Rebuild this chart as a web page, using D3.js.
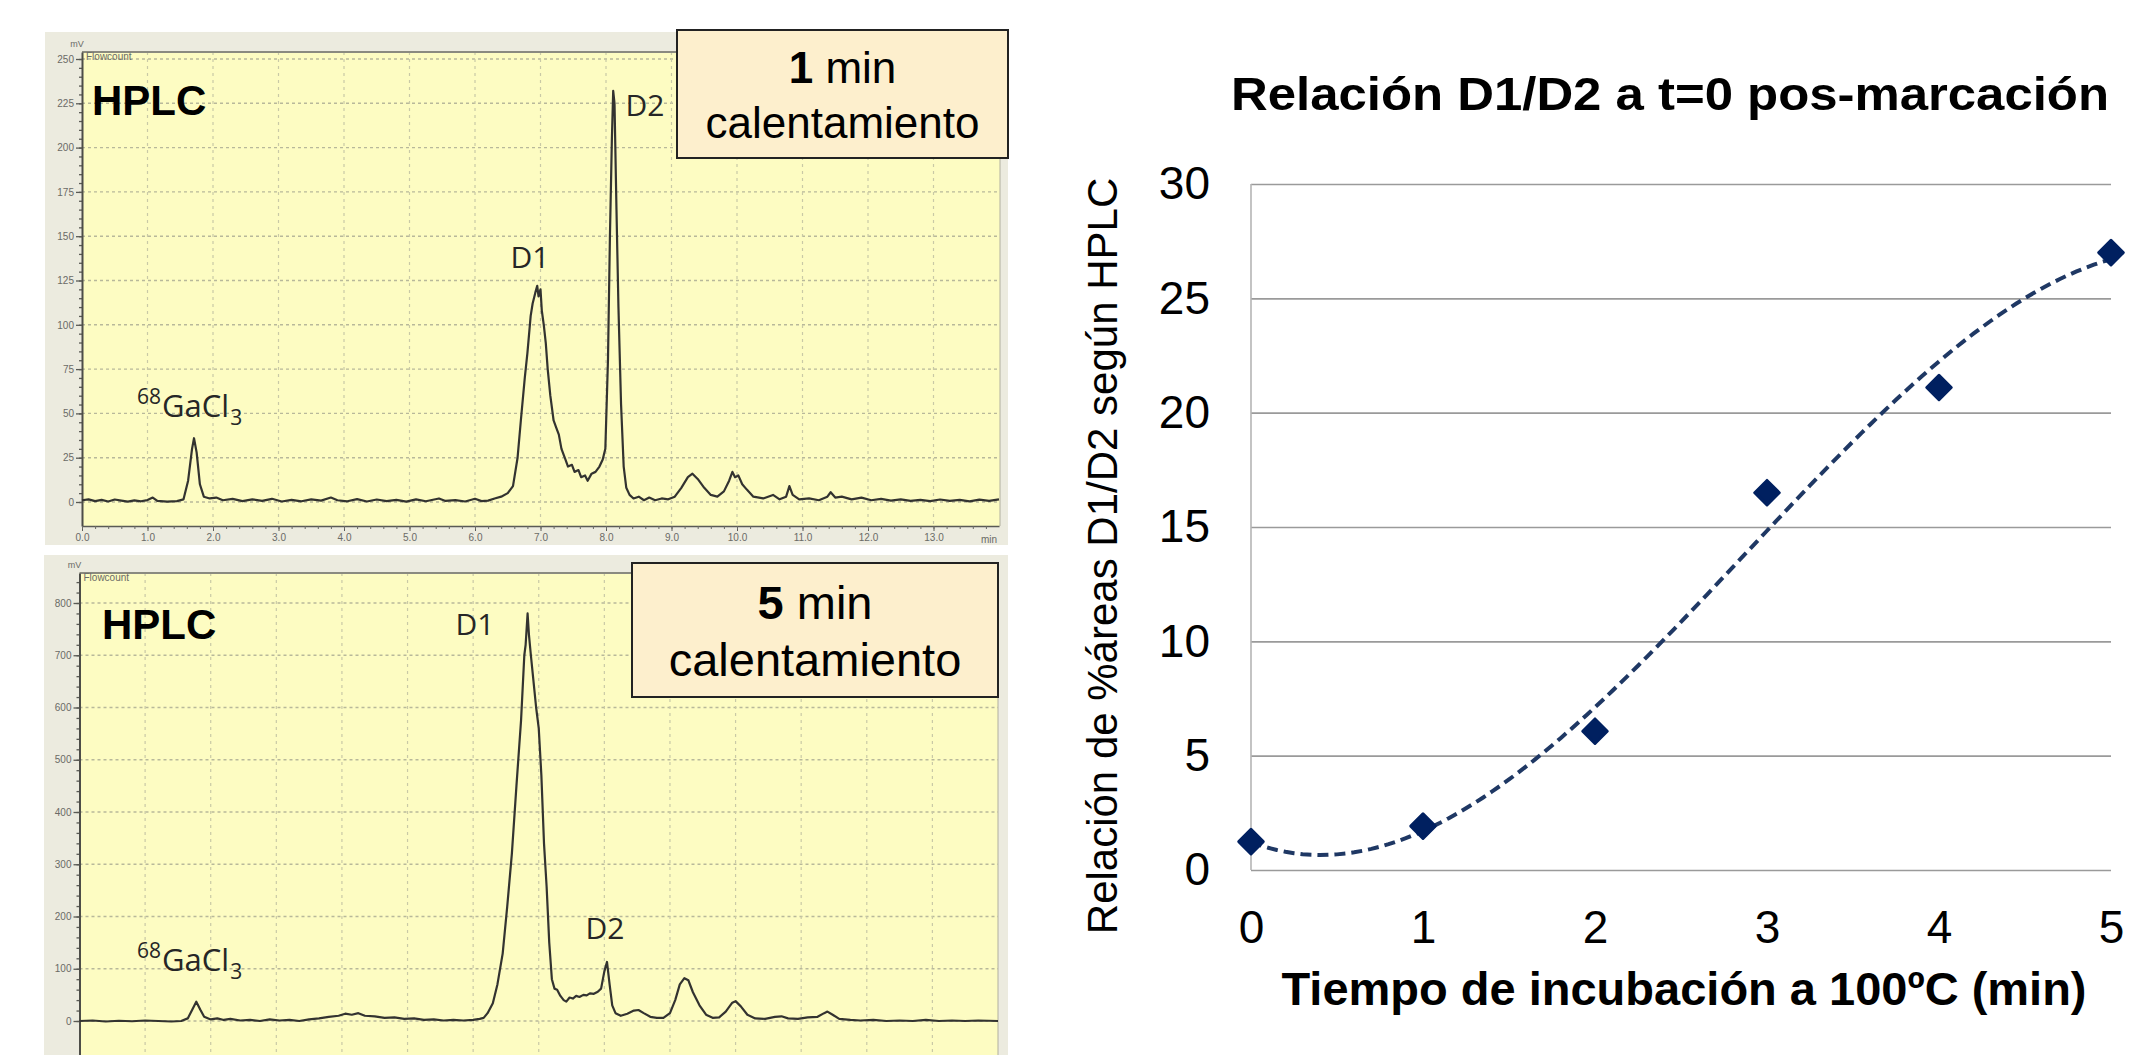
<!DOCTYPE html>
<html>
<head>
<meta charset="utf-8">
<script src="https://cdn.jsdelivr.net/npm/d3@7"></script>
<style>
  body { margin: 0; background: #fff; }
  svg { display: block; }
</style>
</head>
<body>
<div id="figura"></div>

<script>
// ---- panel derecho: relacion D1/D2 frente al tiempo de incubacion
var tiempos = [0, 1, 2, 3, 4, 5];
var relacionD1D2 = [1.24, 1.92, 6.07, 16.5, 21.1, 27.0];
var ticksTiempo = [0, 1, 2, 3, 4, 5];
var ticksRelacion = [0, 5, 10, 15, 20, 25, 30];

// ---- cromatograma tras 1 min de calentamiento (min, mV)
var t1min = [0.0, 0.1, 0.2, 0.3, 0.4, 0.5, 0.6, 0.7, 0.8, 0.9, 1.0, 1.08, 1.15, 1.3, 1.45, 1.55, 1.62, 1.68, 1.71, 1.75, 1.8, 1.86,
  1.95, 2.05, 2.15, 2.3, 2.45, 2.6, 2.75, 2.9, 3.05, 3.2, 3.35, 3.5, 3.65, 3.8, 3.9, 4.05, 4.2, 4.35, 4.5, 4.65, 4.8, 4.95,
  5.1, 5.25, 5.45, 5.55, 5.7, 5.85, 6.0, 6.1, 6.2, 6.3, 6.4, 6.5, 6.58, 6.65, 6.7, 6.76, 6.8, 6.85, 6.88, 6.92, 6.95, 6.97,
  7.0, 7.02, 7.05, 7.08, 7.11, 7.15, 7.2, 7.24, 7.28, 7.32, 7.38, 7.42, 7.48, 7.52, 7.58, 7.62, 7.68, 7.72, 7.78, 7.84, 7.9,
  7.95, 7.99, 8.03, 8.06, 8.09, 8.11, 8.13, 8.16, 8.19, 8.23, 8.27, 8.31, 8.36, 8.42, 8.5, 8.58, 8.66, 8.75, 8.85, 8.95, 9.05,
  9.15, 9.25, 9.32, 9.4, 9.5, 9.6, 9.7, 9.8, 9.88, 9.93, 9.97, 10.02, 10.08, 10.15, 10.25, 10.4, 10.55, 10.65, 10.75, 10.8,
  10.85, 10.95, 11.1, 11.25, 11.38, 11.43, 11.5, 11.6, 11.75, 11.9, 12.05, 12.2, 12.35, 12.5, 12.65, 12.8, 12.95, 13.1,
  13.25, 13.4, 13.55, 13.7, 13.85, 14.0];
var mv1min = [1, 1.5, 0.5, 1.2, 0.3, 1.4, 0.8, 0.2, 0.9, 0.4, 1.1, 2.5, 0.6, 0.2, 0.5, 1.5, 12, 30, 36, 28, 10, 3,
  2, 2.5, 1, 1.8, 0.5, 1.5, 0.6, 1.8, 0.3, 1.2, 0.4, 1.5, 0.8, 2.5, 1, 0.4, 1.6, 0.3, 1.4, 0.5, 1.2, 0.2,
  1.5, 0.4, 2, 0.6, 1.1, 0.3, 1.8, 0.5, 0.8, 2, 3, 5, 9, 25, 46, 70, 84, 105, 112, 118, 122, 116,
  120, 108, 100, 90, 75, 60, 46, 42, 38, 30, 24, 20, 21, 17, 18, 14, 15, 12, 16, 17, 20,
  24, 30, 80, 150, 205, 232, 225, 165, 110, 55, 20, 8, 4, 2, 3, 1, 2.5, 1, 2, 1.5, 3,
  8, 14, 16, 13, 8, 4, 3, 6, 12, 17, 14, 15, 10, 7, 3, 2, 4, 1.5, 3, 9,
  4, 1.5, 2, 1, 3, 5.5, 2.5, 3, 1.5, 2.5, 1, 1.8, 0.8, 1.5, 0.6, 1.2, 0.5, 1.4,
  0.6, 1.2, 0.4, 1.3, 0.6, 1.5];

// ---- cromatograma tras 5 min de calentamiento (min, mV)
var t5min = [0.0, 0.2, 0.4, 0.6, 0.8, 1.0, 1.2, 1.4, 1.55, 1.65, 1.72, 1.78, 1.84, 1.9, 2.0, 2.1, 2.2, 2.3, 2.45, 2.6, 2.75,
  2.9, 3.05, 3.2, 3.35, 3.5, 3.65, 3.8, 3.95, 4.05, 4.15, 4.25, 4.35, 4.5, 4.65, 4.8, 4.95, 5.1, 5.25, 5.4, 5.55, 5.7,
  5.85, 6.0, 6.1, 6.16, 6.22, 6.3, 6.37, 6.45, 6.52, 6.59, 6.66, 6.73, 6.78, 6.8, 6.83, 6.85, 6.88, 6.92, 6.96, 7.0,
  7.04, 7.08, 7.12, 7.16, 7.2, 7.24, 7.28, 7.33, 7.38, 7.42, 7.47, 7.52, 7.57, 7.62, 7.68, 7.73, 7.78, 7.84, 7.9, 7.95,
  8.0, 8.04, 8.08, 8.12, 8.17, 8.25, 8.35, 8.45, 8.52, 8.6, 8.7, 8.8, 8.9, 9.0, 9.08, 9.15, 9.22, 9.28, 9.35, 9.45,
  9.55, 9.65, 9.75, 9.85, 9.95, 10.0, 10.08, 10.18, 10.3, 10.45, 10.6, 10.7, 10.8, 10.95, 11.1, 11.25, 11.35, 11.4,
  11.48, 11.58, 11.75, 11.9, 12.1, 12.3, 12.5, 12.7, 12.9, 13.1, 13.3, 13.5, 13.7, 14.0];
var mv5min = [0, 1, -1, 0.5, -0.5, 1, 0, -1, 0, 5, 22, 37, 22, 8, 3, 5, 2, 4, 1, 2, 0,
  3, 1, 2, 0, 3, 5, 8, 10, 14, 12, 15, 10, 9, 6, 7, 4, 5, 2, 3, 1, 2,
  1, 2, 4, 6, 15, 34, 70, 129, 220, 320, 450, 575, 700, 720, 780, 740, 700, 650, 600, 560,
  470, 340, 257, 150, 80, 62, 60, 48, 40, 37, 45, 43, 48, 46, 50, 49, 53, 52, 56, 62,
  95, 113, 70, 30, 15, 10, 14, 20, 21, 15, 8, 6, 6, 15, 40, 70, 82, 78, 55, 30,
  12, 6, 7, 18, 35, 38, 28, 12, 5, 4, 8, 9, 5, 4, 7, 8, 15, 18,
  12, 4, 2, 1, 2, 0, 1, 0, 2, 0, 1, 0, 1, 0];

var ticksMin = [0, 1, 2, 3, 4, 5, 6, 7, 8, 9, 10, 11, 12, 13];
var ticksMv1 = [0, 25, 50, 75, 100, 125, 150, 175, 200, 225, 250];
var ticksMv5 = [0, 100, 200, 300, 400, 500, 600, 700, 800];

var W = 2131, H = 1055;

var svg = d3.select("#figura")
  .append("svg")
    .attr("width", W)
    .attr("height", H)
    .style("font-family", "'Liberation Sans', Arial, sans-serif");

// ---------------------------------------------------------------------------
// cromatogramas (captura del software de HPLC)
function cromatograma(o)
{
  var g = svg.append("g");

  // marco gris de la ventana
  g.append("rect")
    .attr("x", o.fx).attr("y", o.fy)
    .attr("width", o.fw).attr("height", o.fh)
    .attr("fill", "#ecebdf");

  // area del grafico
  g.append("rect")
    .attr("x", o.px0).attr("y", o.pyTop)
    .attr("width", o.px1 - o.px0).attr("height", o.pyBot - o.pyTop)
    .attr("fill", "#fdfcc2");

  var x = d3.scaleLinear().domain([0, 14]).range([o.px0, o.x14]);
  var y = d3.scaleLinear().domain([0, o.mvRef]).range([o.y0, o.yRef]);
  var yEje = y.copy().domain([y.invert(o.pyBot), y.invert(o.pyTop)]).range([o.pyBot, o.pyTop]);

  // rejilla punteada
  g.selectAll(".gh").data(o.ticksMv).enter().append("line")
    .attr("x1", o.px0).attr("x2", o.px1)
    .attr("y1", function(d) { return y(d); })
    .attr("y2", function(d) { return y(d); })
    .attr("stroke", "#b8b89a").attr("stroke-width", 1.4)
    .attr("stroke-dasharray", "3,3");
  g.selectAll(".gv").data(ticksMin.slice(1)).enter().append("line")
    .attr("x1", function(d) { return x(d); })
    .attr("x2", function(d) { return x(d); })
    .attr("y1", o.pyTop).attr("y2", o.pyBot)
    .attr("stroke", "#c9c9a6").attr("stroke-width", 1.2)
    .attr("stroke-dasharray", "3,4");

  // borde superior y derecho
  g.append("line")
    .attr("x1", o.px0).attr("x2", o.px1)
    .attr("y1", o.pyTop).attr("y2", o.pyTop)
    .attr("stroke", "#8a8a80").attr("stroke-width", 2);
  g.append("line")
    .attr("x1", o.px1).attr("x2", o.px1)
    .attr("y1", o.pyTop).attr("y2", o.pyBot)
    .attr("stroke", "#b0b0a0").attr("stroke-width", 1);

  // eje Y: marcas menores y mayores
  g.append("g")
    .attr("transform", "translate(" + o.px0 + ",0)")
    .call(d3.axisLeft(yEje).tickValues(d3.range(0, yEje.domain()[1], o.menor)).tickSize(3).tickFormat(""))
    .call(function(a) { a.select(".domain").remove(); });
  var ay = g.append("g")
    .attr("transform", "translate(" + o.px0 + ",0)")
    .call(d3.axisLeft(yEje).tickValues(o.ticksMv).tickSize(6).tickPadding(2).tickSizeOuter(0));
  g.selectAll(".tick line").attr("stroke", "#5a5a55").attr("stroke-width", 1.3);
  ay.select(".domain").attr("stroke", "#4d4d48").attr("stroke-width", 2);
  ay.selectAll("text").attr("fill", "#6a6a66").style("font-size", "10px");

  // eje X (solo visible en el primer cromatograma)
  if (o.ejeX) {
    var ax = g.append("g")
      .attr("transform", "translate(0," + o.pyBot + ")")
      .call(d3.axisBottom(x).tickValues(ticksMin).tickSize(5).tickPadding(3).tickSizeOuter(0)
        .tickFormat(d3.format(".1f")));
    ax.select(".domain").attr("stroke", "#5a5a55").attr("stroke-width", 1.5);
    ax.selectAll(".tick line").attr("stroke", "#5a5a55");
    ax.selectAll("text").attr("fill", "#6a6a66").style("font-size", "10px");
    g.append("g")
      .attr("transform", "translate(0," + o.pyBot + ")")
      .call(d3.axisBottom(x).tickValues(d3.range(0, 14, 0.2)).tickSize(3).tickFormat(""))
      .call(function(a) { a.select(".domain").remove(); a.selectAll("line").attr("stroke", "#6a6a66"); });
    g.append("text")
      .attr("x", o.x14 - 2).attr("y", o.pyBot + 17)
      .attr("text-anchor", "end")
      .attr("fill", "#6a6a66").style("font-size", "10px")
      .text("min");
  }

  g.append("text")
    .attr("x", o.px0 - 5).attr("y", o.pyTop - 5)
    .attr("text-anchor", "middle")
    .attr("fill", "#6a6a66").style("font-size", "9px")
    .text("mV");
  g.append("text")
    .attr("x", o.px0 + 4).attr("y", o.pyTop + 8)
    .attr("fill", "#6a6a66").style("font-size", "10px")
    .text("Flowcount");

  // traza
  var linea = d3.line()
    .x(function(d, i) { return x(o.t[i]); })
    .y(function(d) { return y(d); });
  g.append("path")
    .datum(o.mv)
    .attr("d", linea)
    .attr("fill", "none")
    .attr("stroke", "#333330")
    .attr("stroke-width", 2.2)
    .attr("stroke-linejoin", "round");

  // rotulos
  g.append("text")
    .attr("x", o.hplc[0]).attr("y", o.hplc[1])
    .style("font-size", "42px").style("font-weight", "bold")
    .text("HPLC");

  var fuenteCrom = "'Open Sans', 'Noto Sans', sans-serif";
  o.picos.forEach(function(p) {
    g.append("text")
      .attr("x", p[1]).attr("y", p[2])
      .attr("text-anchor", "middle")
      .attr("fill", "#262626")
      .style("font-family", fuenteCrom).style("font-size", "30px")
      .text(p[0]);
  });
  var ga = g.append("text")
    .attr("x", o.galio[0]).attr("y", o.galio[1])
    .attr("fill", "#262626")
    .style("font-family", fuenteCrom);
  ga.append("tspan").attr("dy", -13).style("font-size", "21px").text("68");
  ga.append("tspan").attr("dy", 13).attr("dx", 1).style("font-size", "31px").text("GaCl");
  ga.append("tspan").attr("dy", 8).attr("dx", 1).style("font-size", "21px").text("3");

  // recuadro con el tiempo de calentamiento
  g.append("rect")
    .attr("x", o.caja[0]).attr("y", o.caja[1])
    .attr("width", o.caja[2]).attr("height", o.caja[3])
    .attr("fill", "#fdefcd")
    .attr("stroke", "#222").attr("stroke-width", 2);
  var cx = o.caja[0] + o.caja[2] / 2;
  var l1 = g.append("text")
    .attr("x", cx).attr("y", o.caja[4])
    .attr("text-anchor", "middle")
    .style("font-size", o.caja[6] + "px");
  l1.append("tspan").style("font-weight", "bold").text(o.minutos);
  l1.append("tspan").text(" min");
  g.append("text")
    .attr("x", cx).attr("y", o.caja[5])
    .attr("text-anchor", "middle")
    .style("font-size", o.caja[6] + "px")
    .text("calentamiento");
}

cromatograma({
  fx: 45, fy: 32, fw: 963, fh: 513,
  px0: 82, px1: 1000, pyTop: 52, pyBot: 526, x14: 999,
  y0: 502, yRef: 59, mvRef: 250, menor: 5,
  ticksMv: ticksMv1, t: t1min, mv: mv1min, ejeX: true,
  hplc: [92, 115],
  picos: [["D1", 530, 268], ["D2", 645, 116]],
  galio: [137, 417],
  caja: [677, 30, 331, 128, 83, 138, 44],
  minutos: "1"
});

cromatograma({
  fx: 44, fy: 555, fw: 964, fh: 500,
  px0: 79.5, px1: 998, pyTop: 573, pyBot: 1055, x14: 998,
  y0: 1021, yRef: 603, mvRef: 800, menor: 20,
  ticksMv: ticksMv5, t: t5min, mv: mv5min, ejeX: false,
  hplc: [102, 639],
  picos: [["D1", 475, 635], ["D2", 605, 939]],
  galio: [137, 971],
  caja: [632, 563, 366, 134, 619, 676, 47],
  minutos: "5"
});

// ---------------------------------------------------------------------------
// grafico de dispersion con linea de tendencia polinomica
var xS = d3.scaleLinear().domain([0, 5]).range([1251, 2111]);
var yS = d3.scaleLinear().domain([0, 30]).range([870, 184]);

var gy = svg.append("g")
  .attr("transform", "translate(1251,0)")
  .call(d3.axisLeft(yS).tickValues(ticksRelacion).tickSize(-(2111 - 1251)).tickPadding(41)
    .tickFormat(d3.format("d")));
gy.select(".domain").remove();
gy.selectAll(".tick line").attr("stroke", "#9a9a9a").attr("stroke-width", 1.6);
gy.selectAll("text").attr("fill", "#000").style("font-size", "46px");

svg.append("line")
  .attr("x1", 1251).attr("x2", 1251)
  .attr("y1", yS(30)).attr("y2", yS(0))
  .attr("stroke", "#b5b5b5").attr("stroke-width", 1.6);

var gx = svg.append("g")
  .attr("transform", "translate(0,870)")
  .call(d3.axisBottom(xS).tickValues(ticksTiempo).tickSize(0).tickPadding(40)
    .tickFormat(d3.format("d")));
gx.select(".domain").remove();
gx.selectAll("text").attr("fill", "#000").style("font-size", "46px");

// ajuste por minimos cuadrados de orden 3 (linea de tendencia)
function ajustePolinomico(xs, ys, grado)
{
  var n = grado + 1, A = [], b = [];
  for (var i = 0; i < n; i++) {
    A.push([]);
    for (var j = 0; j < n; j++) A[i].push(d3.sum(xs, function(v) { return Math.pow(v, i + j); }));
    b.push(d3.sum(xs, function(v, k) { return Math.pow(v, i) * ys[k]; }));
  }
  for (var c = 0; c < n; c++) {
    for (var r = c + 1; r < n; r++) {
      var f = A[r][c] / A[c][c];
      for (var k = c; k < n; k++) A[r][k] -= f * A[c][k];
      b[r] -= f * b[c];
    }
  }
  var coef = new Array(n);
  for (var r2 = n - 1; r2 >= 0; r2--) {
    var s = b[r2];
    for (var k2 = r2 + 1; k2 < n; k2++) s -= A[r2][k2] * coef[k2];
    coef[r2] = s / A[r2][r2];
  }
  return coef;
}
var coef = ajustePolinomico(tiempos, relacionD1D2, 3);
var tendencia = d3.range(0, 5.0001, 0.05).map(function(t) {
  return [t, coef[0] + coef[1] * t + coef[2] * t * t + coef[3] * t * t * t];
});

svg.append("path")
  .datum(tendencia)
  .attr("d", d3.line()
    .x(function(d) { return xS(d[0]); })
    .y(function(d) { return yS(d[1]); }))
  .attr("fill", "none")
  .attr("stroke", "#1f3864")
  .attr("stroke-width", 4)
  .attr("stroke-dasharray", "11,6");

svg.selectAll(".rombo")
  .data(tiempos)
  .enter()
  .append("path")
    .attr("d", d3.symbol().type(d3.symbolSquare).size(300))
    .attr("transform", function(d, i) {
      return "translate(" + xS(d) + "," + yS(relacionD1D2[i]) + ") rotate(45)";
    })
    .attr("fill", "#002060")
    .attr("stroke", "#002060")
    .attr("stroke-width", 3)
    .attr("stroke-linejoin", "round");

// titulos
svg.append("text")
  .attr("x", 1670).attr("y", 110)
  .attr("text-anchor", "middle")
  .attr("textLength", 878).attr("lengthAdjust", "spacingAndGlyphs")
  .style("font-size", "46px").style("font-weight", "bold")
  .text("Relación D1/D2 a t=0 pos-marcación");

svg.append("text")
  .attr("x", 1684).attr("y", 1005)
  .attr("text-anchor", "middle")
  .style("font-size", "47px").style("font-weight", "bold")
  .text("Tiempo de incubación a 100ºC (min)");

svg.append("text")
  .attr("transform", "translate(1117,556) rotate(-90)")
  .attr("text-anchor", "middle")
  .style("font-size", "42px")
  .text("Relación de %áreas D1/D2 según HPLC");
</script>
</body>
</html>
